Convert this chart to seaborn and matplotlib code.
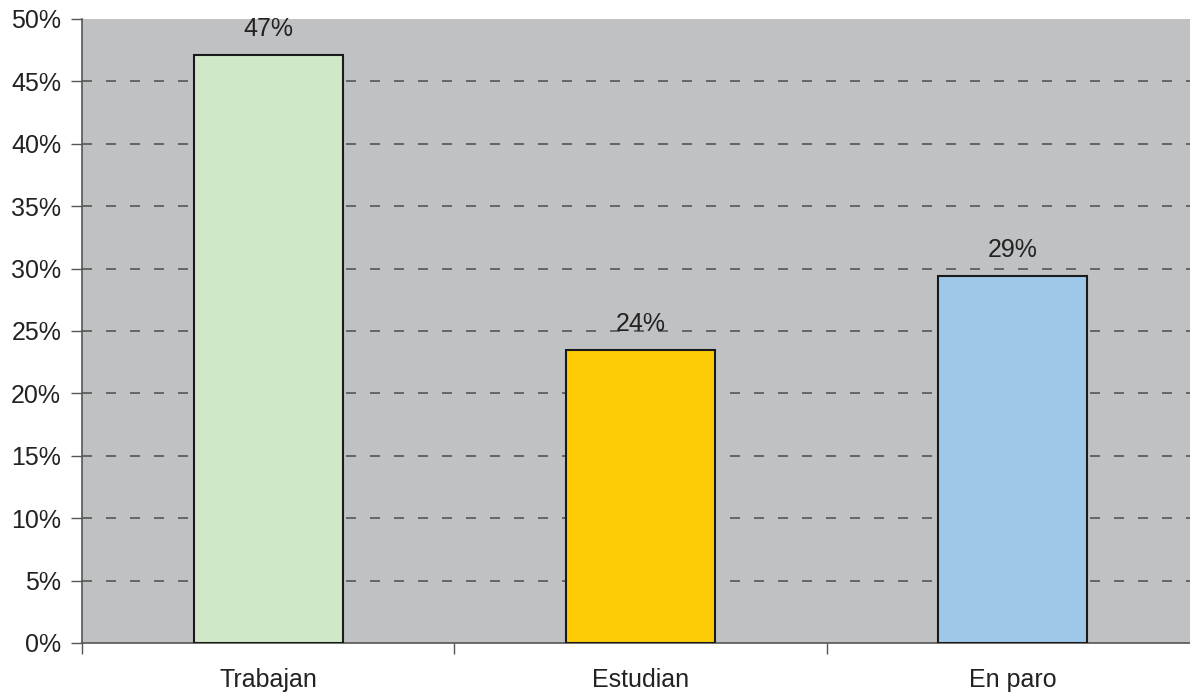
import matplotlib
matplotlib.use("Agg")
import matplotlib.pyplot as plt
import seaborn as sns
import pandas as pd
from matplotlib.ticker import FuncFormatter

categories = ["Trabajan", "Estudian", "En paro"]
values = [47.1, 23.5, 29.4]
labels = ["47%", "24%", "29%"]
colors = ["#D0E8C8", "#FDCB05", "#9DC8EA"]

sns.set_theme(style="white")
plt.rcParams['font.family'] = ['Liberation Sans', 'DejaVu Sans']

df = pd.DataFrame({"cat": categories, "val": values})

fig = plt.figure(figsize=(11.9, 6.95), dpi=100)
ax = fig.add_axes([82/1190, 52/695, 1117/1190, 624/695])
ax.set_facecolor("#C0C1C3")

sns.barplot(data=df, x="cat", y="val", hue="cat", palette=colors, legend=False,
            saturation=1, width=0.4, edgecolor="#1a1a1a", linewidth=1.5, ax=ax, zorder=3)

ax.set_xlim(-0.5, 2.5)
ax.set_ylim(0, 50)
ax.set_yticks(range(0, 51, 5))
ax.yaxis.set_major_formatter(FuncFormatter(lambda v, p: f"{int(v)}%"))
for y in range(5, 50, 5):
    ax.axhline(y, color="#555555", linestyle=(0, (6, 8.4)), linewidth=1.2, zorder=1)

ax.set_xticks([-0.5, 0.5, 1.5, 2.5])
ax.set_xticklabels([])
ax.set_xticks([0, 1, 2], minor=True)
ax.set_xticklabels(categories, minor=True)
ax.tick_params(axis="x", which="major", direction="out", length=8, width=1, color="#555555", bottom=True)
ax.tick_params(axis="x", which="minor", length=0, labelsize=18, pad=18, labelcolor="#222222")
ax.tick_params(axis="y", direction="out", length=8, width=1, color="#555555", left=True, labelsize=18, labelcolor="#222222", pad=7)

ax.set_xlabel("")
ax.set_ylabel("")
for s in ["top", "right"]:
    ax.spines[s].set_visible(False)
ax.spines["left"].set_color("#555555")
ax.spines["bottom"].set_color("#555555")
ax.spines["left"].set_linewidth(1.2)
ax.spines["bottom"].set_linewidth(1.2)

for i, (v, lab) in enumerate(zip(values, labels)):
    ax.annotate(lab, (i, v), xytext=(0, 10), textcoords="offset points",
                ha="center", va="bottom", fontsize=18, color="#222222", zorder=4)

fig.savefig("out.png", dpi=100)
